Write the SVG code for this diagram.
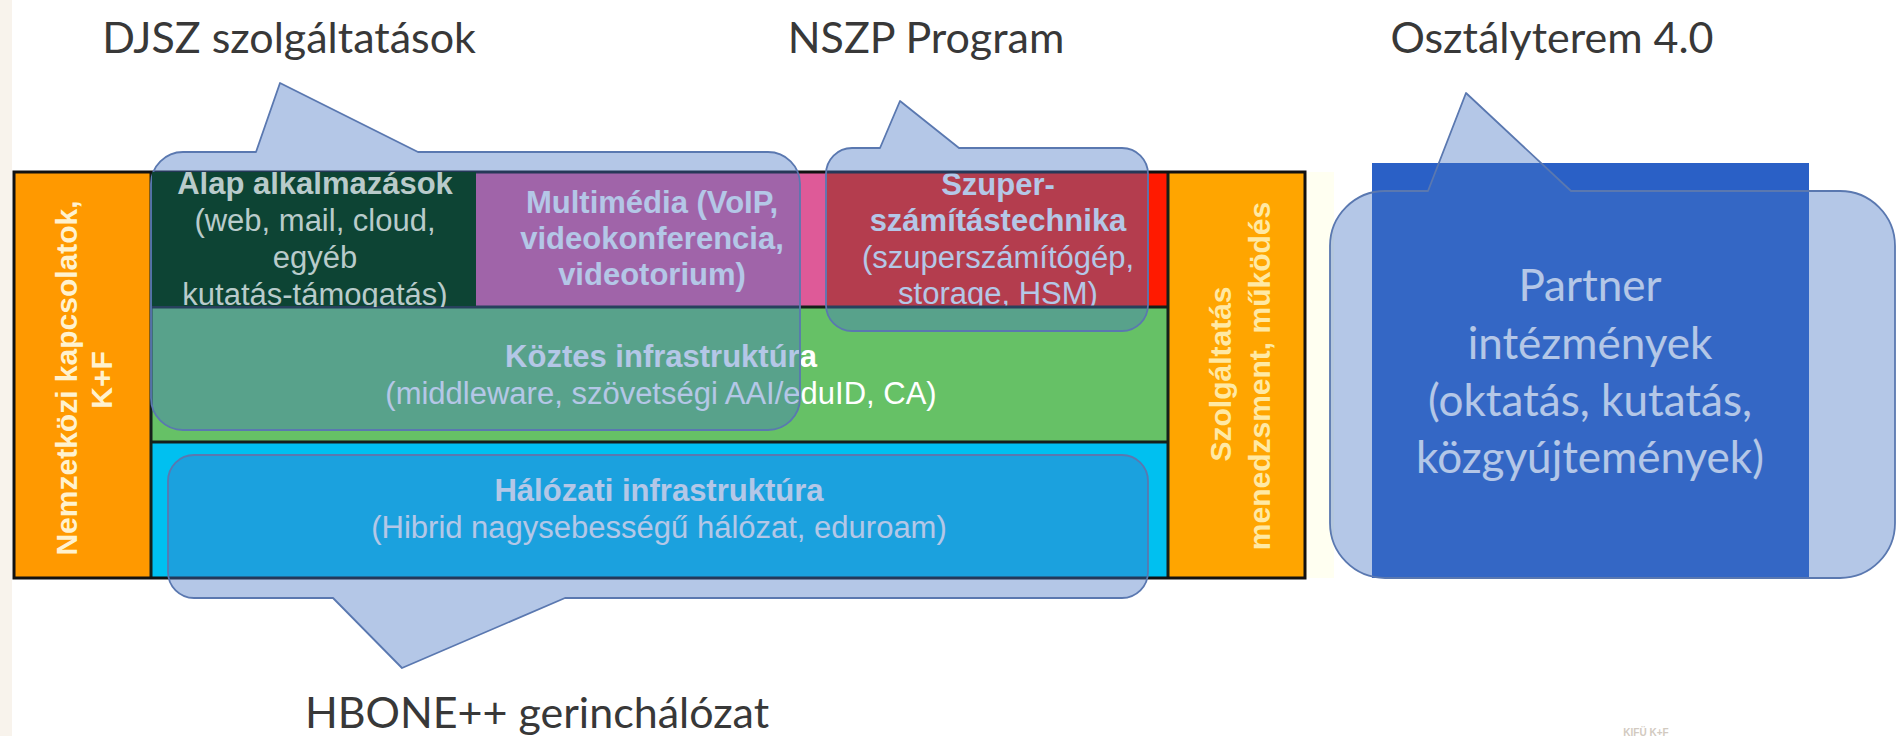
<svg xmlns="http://www.w3.org/2000/svg" width="1898" height="736" viewBox="0 0 1898 736">
<defs>
<style>
.cell{font-family:"Liberation Sans",Arial,sans-serif;font-size:31px;fill:#ffffff;text-anchor:middle}
.b{font-weight:bold}
.side{font-family:"Liberation Sans",Arial,sans-serif;font-size:30px;font-weight:bold;text-anchor:middle}
.title{font-family:Lato,"Open Sans",sans-serif;font-size:43px;fill:#383838;text-anchor:middle}
.partner{font-family:Lato,"Open Sans",sans-serif;font-size:44px;fill:#ffffff;text-anchor:middle}
.callout{fill:#4472c4;fill-opacity:0.4;stroke:#5a78b0;stroke-width:1.8;stroke-linejoin:round}
.sep{stroke:#15201a;stroke-width:3}
.alap{fill:#b9cbcb}
</style>
<clipPath id="clipAlap"><rect x="151" y="172" width="325" height="135"/></clipPath>
<clipPath id="clipTop"><rect x="151" y="173" width="1017" height="134"/></clipPath>
</defs>
<rect width="1898" height="736" fill="#ffffff"/>
<rect x="0" y="0" width="12" height="736" fill="#f8f3ec"/>
<rect x="1306" y="172" width="28" height="406" fill="#fffff1"/>

<g id="titles">
<text class="title" x="289" y="53">DJSZ szolgáltatások</text>
<text class="title" x="926" y="53">NSZP Program</text>
<text class="title" x="1552" y="53">Osztályterem 4.0</text>
<text class="title" x="537" y="728">HBONE++ gerinchálózat</text>
</g>

<g id="node-nemzetkozi">
<rect x="14" y="172" width="137" height="406" fill="#ff9900"/>
<text class="side" fill="#fff2cf" transform="translate(77,378) rotate(-90)">Nemzetközi kapcsolatok,</text>
<text class="side" fill="#fff2cf" transform="translate(112,380) rotate(-90)">K+F</text>
</g>

<g id="node-szolgaltatas">
<rect x="1168" y="172" width="137" height="406" fill="#ffa500"/>
<text class="side" fill="#ffe9a4" transform="translate(1231,374) rotate(-90)">Szolgáltatás</text>
<text class="side" fill="#ffe9a4" transform="translate(1270,376) rotate(-90)">menedzsment, működés</text>
</g>

<g id="node-multimedia">
<rect x="476" y="172" width="351" height="135" fill="#de5a98"/>
<g clip-path="url(#clipTop)">
<text class="cell b" x="652" y="213">Multimédia (VoIP,</text>
<text class="cell b" x="652" y="249">videokonferencia,</text>
<text class="cell b" x="652" y="285">videotorium)</text>
</g>
</g>

<g id="node-szuper">
<rect x="827" y="172" width="341" height="135" fill="#ff1a00"/>
<g clip-path="url(#clipTop)">
<text class="cell b" x="998" y="195">Szuper-</text>
<text class="cell b" x="998" y="231">számítástechnika</text>
<text class="cell" x="998" y="268">(szuperszámítógép,</text>
<text class="cell" x="998" y="304">storage, HSM)</text>
</g>
</g>

<g id="node-koztes">
<rect x="151" y="307" width="1017" height="135" fill="#66c166"/>
<text class="cell b" x="661" y="367">Köztes infrastruktúra</text>
<text class="cell" x="661" y="404">(middleware, szövetségi AAI/eduID, CA)</text>
</g>

<g id="node-halozati">
<rect x="151" y="442" width="1017" height="136" fill="#00c0f0"/>
<text class="cell b" x="659" y="501">Hálózati infrastruktúra</text>
<text class="cell" x="659" y="538">(Hibrid nagysebességű hálózat, eduroam)</text>
</g>

<g id="frame">
<line class="sep" x1="151" y1="307" x2="1168" y2="307"/>
<line class="sep" x1="151" y1="442" x2="1168" y2="442"/>
<line class="sep" x1="151" y1="172" x2="151" y2="578"/>
<line class="sep" x1="1168" y1="172" x2="1168" y2="578"/>
<rect x="14" y="172" width="1291" height="406" fill="none" stroke="#111111" stroke-width="3"/>
</g>

<g id="node-partner">
<rect x="1372" y="163" width="437" height="415" fill="#2a60c6"/>
<text class="partner" x="1590" y="301">Partner</text>
<text class="partner" x="1590" y="359">intézmények</text>
<text class="partner" x="1590" y="416">(oktatás, kutatás,</text>
<text class="partner" x="1590" y="473">közgyújtemények)</text>
</g>

<g id="connectors">
<path id="callout-djsz" class="callout" d="M183,152 H256 L280,83 L418,152 H768 A32,32 0 0 1 800,184 V398 A32,32 0 0 1 768,430 H183 A32,32 0 0 1 151,398 V184 A32,32 0 0 1 183,152 Z"/>
<path id="callout-nszp" class="callout" d="M852,148 H880 L900,101 L959,148 H1122 A26,26 0 0 1 1148,174 V305 A26,26 0 0 1 1122,331 H852 A26,26 0 0 1 826,305 V174 A26,26 0 0 1 852,148 Z"/>
<path id="callout-hbone" class="callout" d="M194,455 H1122 A26,26 0 0 1 1148,481 V572 A26,26 0 0 1 1122,598 H565 L402,668 L333,598 H194 A26,26 0 0 1 168,572 V481 A26,26 0 0 1 194,455 Z"/>
<path id="callout-osztaly" class="callout" d="M1385,191 H1428 L1466,93 L1571,191 H1840 A55,55 0 0 1 1895,246 V523 A55,55 0 0 1 1840,578 H1385 A55,55 0 0 1 1330,523 V246 A55,55 0 0 1 1385,191 Z"/>
</g>

<g id="node-alap">
<rect x="152" y="172" width="324" height="134" fill="#0d4434"/>
<g clip-path="url(#clipAlap)">
<text class="cell b alap" x="315" y="194">Alap alkalmazások</text>
<text class="cell alap" x="315" y="231">(web, mail, cloud,</text>
<text class="cell alap" x="315" y="268">egyéb</text>
<text class="cell alap" x="315" y="305">kutatás-támogatás)</text>
</g>
</g>

<text x="1646" y="736" font-family="Liberation Sans,Arial,sans-serif" font-size="10" font-weight="bold" fill="#d2cac0" text-anchor="middle">KIFÜ K+F</text>
</svg>
